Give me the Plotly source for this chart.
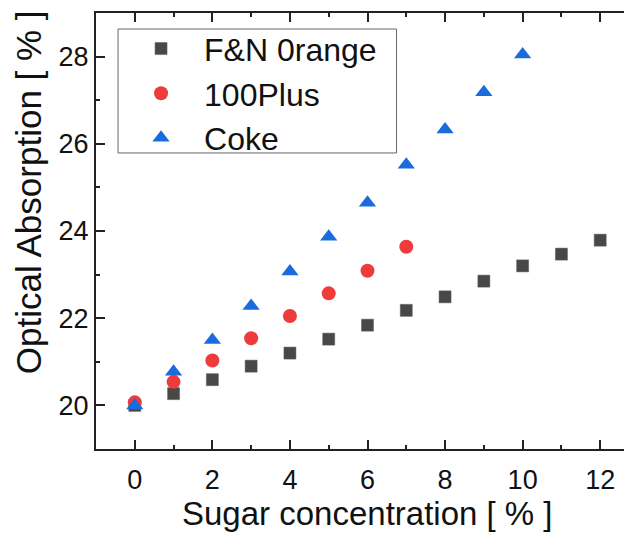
import plotly.graph_objects as go

# Data
x_orange = [0, 1, 2, 3, 4, 5, 6, 7, 8, 9, 10, 11, 12]
y_orange = [20.0, 20.27, 20.59, 20.9, 21.2, 21.52, 21.84, 22.18, 22.49, 22.85, 23.2, 23.47, 23.79]

x_plus = [0, 1, 2, 3, 4, 5, 6, 7]
y_plus = [20.07, 20.54, 21.03, 21.54, 22.05, 22.57, 23.09, 23.64]

x_coke = [0, 1, 2, 3, 4, 5, 6, 7, 8, 9, 10]
y_coke = [20.0, 20.77, 21.5, 22.28, 23.07, 23.87, 24.65, 25.52, 26.33, 27.18, 28.05]

names = ["F&N 0range", "100Plus", "Coke"]
x_tick_vals = [0, 2, 4, 6, 8, 10, 12]
y_tick_vals = [20, 22, 24, 26, 28]
x_title = "Sugar concentration [ % ]"
y_title = "Optical Absorption [ % ]"

FONT = "Liberation Sans, Arial, sans-serif"
AX = "#222222"
TXT = "#111111"

fig = go.Figure()
fig.add_trace(go.Scatter(
    x=x_orange, y=y_orange, mode="markers", name=names[0],
    marker=dict(symbol="square", size=12, color="#484848",
                line=dict(color="#5a5a5a", width=0.5))))
fig.add_trace(go.Scatter(
    x=x_plus, y=y_plus, mode="markers", name=names[1],
    marker=dict(symbol="circle", size=14, color="#EE3B3B",
                line=dict(width=0))))
fig.add_trace(go.Scatter(
    x=x_coke, y=y_coke, mode="markers", name=names[2],
    marker=dict(symbol="triangle-up", size=15, color="#1A6CDD",
                line=dict(width=0))))

fig.update_layout(
    width=632, height=534,
    margin=dict(l=88, r=1, t=5, b=93, autoexpand=False),
    paper_bgcolor="white", plot_bgcolor="white",
    font=dict(family=FONT, color=TXT),
    showlegend=True,
    legend=dict(
        x=0.0406, y=0.981, xanchor="left", yanchor="top",
        borderwidth=0, bgcolor="rgba(0,0,0,0)",
        font=dict(size=32, family=FONT, color=TXT),
        itemwidth=76, tracegroupgap=0,
    ),
    # legend frame
    shapes=[dict(type="rect", xref="paper", yref="paper",
                 x0=0.0406, x1=0.5535, y0=0.679, y1=0.9633,
                 line=dict(color="#666666", width=1), layer="above")],
    xaxis=dict(
        range=[-1.0, 13.0], showgrid=False, zeroline=False, automargin=False,
        showline=True, linecolor=AX, linewidth=2, mirror="ticks",
        ticks="inside", ticklen=9, tickwidth=2, tickcolor=AX,
        tickvals=x_tick_vals, ticklabelstandoff=6,
        minor=dict(ticks="inside", ticklen=4, tickwidth=2, tickcolor=AX, dtick=1),
        tickfont=dict(size=27, family=FONT, color=TXT),
    ),
    yaxis=dict(
        range=[19, 29], showgrid=False, zeroline=False, automargin=False,
        showline=True, linecolor=AX, linewidth=2, mirror="ticks",
        ticks="inside", ticklen=9, tickwidth=2, tickcolor=AX,
        tickvals=y_tick_vals, ticklabelstandoff=0,
        minor=dict(ticks="inside", ticklen=4, tickwidth=2, tickcolor=AX, dtick=1),
        tickfont=dict(size=27, family=FONT, color=TXT),
    ),
    annotations=[
        dict(text=x_title, xref="paper", yref="paper", x=0.5, y=-0.195,
             xanchor="center", yanchor="bottom", showarrow=False,
             font=dict(size=33, family=FONT, color=TXT)),
        dict(text=y_title, xref="paper", yref="paper", x=0, y=0.589,
             xanchor="center", yanchor="middle", xshift=-68, textangle=-90,
             showarrow=False, font=dict(size=35, family=FONT, color=TXT)),
    ],
)

fig.write_html("out.html")
